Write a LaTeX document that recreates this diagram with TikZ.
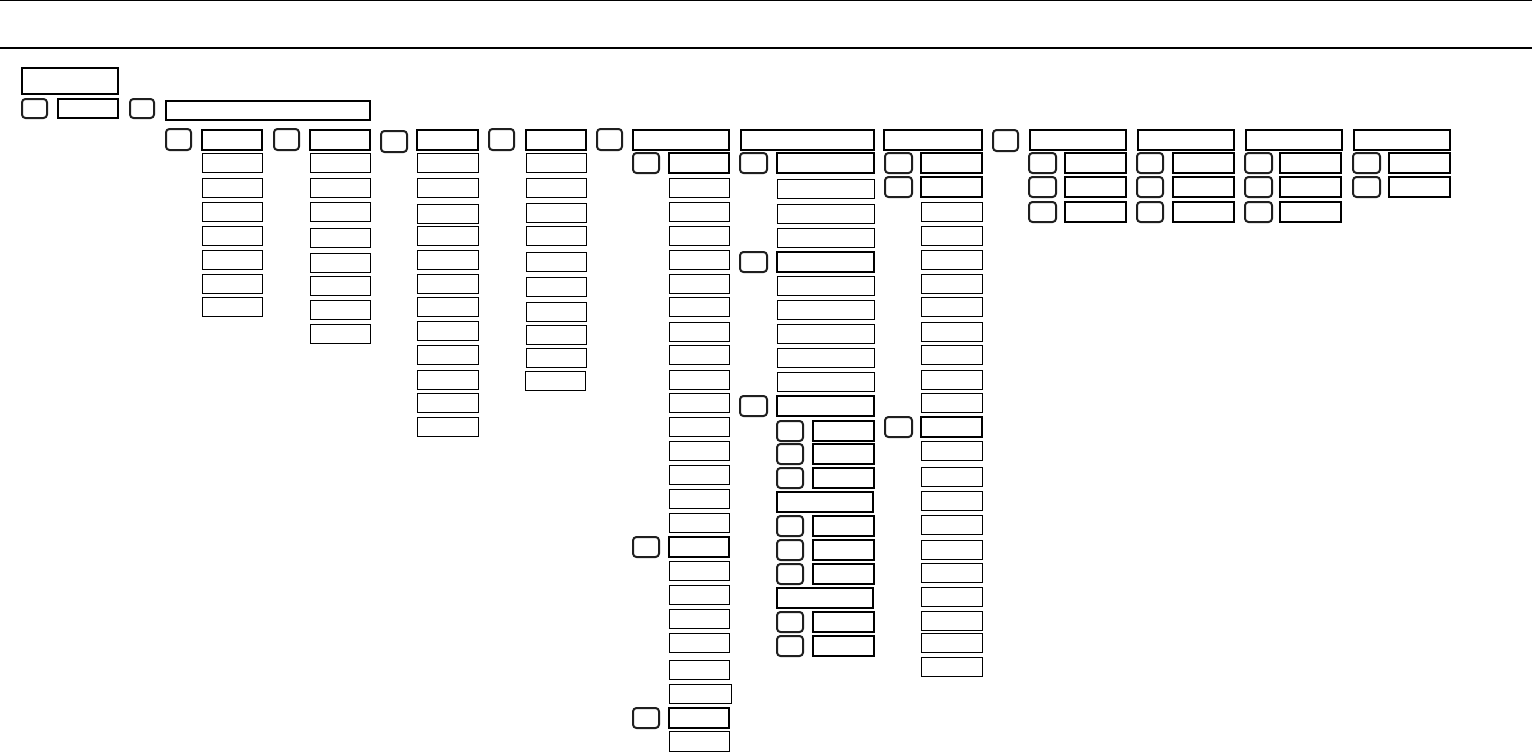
\documentclass[tikz,border=0pt]{standalone}
\usetikzlibrary{fit}
\tikzset{
 base/.style={draw=black, inner sep=0pt, outer sep=0pt},
 hb/.style={base, line width=2.2pt},
 tb/.style={base, line width=1pt},
 rb/.style={base, line width=2pt, rounded corners=3.5pt, draw=black!88},
 rule/.style={draw=black},
}
\newcommand\Bx[6]{\node[#1, fit={(#3,#4) (#5,#6)}] (#2) {};}
\begin{document}
\begin{tikzpicture}[x=1pt,y=-1pt]
\useasboundingbox (0,0) rectangle (1532,752);
% rules
\coordinate (t1) at (0,0.5); \coordinate (t2) at (1532,0.5);
\coordinate (m1) at (0,48); \coordinate (m2) at (1532,48);
\draw[rule, line width=1pt] (t1) -- (t2);
\draw[rule, line width=2pt] (m1) -- (m2);
% top
\Bx{hb}{A}{22}{68}{118}{94}
\Bx{rb}{r0}{22}{99}{47}{118}
\Bx{hb}{A1}{58}{99}{118}{118}
\Bx{rb}{r1}{130}{99}{154}{118}
\Bx{hb}{A2}{166}{101}{370}{120}
% headers
\Bx{rb}{h1r}{166}{129}{191}{150}\Bx{hb}{h1}{202}{130}{262}{150}
\Bx{rb}{h2r}{274}{129}{299}{150}\Bx{hb}{h2}{310}{130}{370}{150}
\Bx{rb}{h3r}{381}{131}{407}{152}\Bx{hb}{h3}{417}{130}{478}{150}
\Bx{rb}{h4r}{489}{129}{514}{150}\Bx{hb}{h4}{526}{130}{586}{150}
\Bx{rb}{h5r}{597}{129}{622}{150}\Bx{hb}{h5}{633}{130}{729}{150}
\Bx{hb}{h6}{741}{130}{874}{150}
\Bx{hb}{h7}{884}{130}{982}{150}
\Bx{rb}{h8r}{993}{130}{1018}{151}
\Bx{hb}{h8a}{1030}{130}{1126}{150}
\Bx{hb}{h8b}{1138}{130}{1234}{150}
\Bx{hb}{h8c}{1246}{130}{1342}{150}
\Bx{hb}{h8d}{1354}{130}{1450}{150}
% column 1
\foreach \y [count=\i] in {153,178,202,226,250,274,297}
  {\Bx{tb}{c1-\i}{202}{\y}{262}{\y+19.5}}
% column 2
\foreach \y [count=\i] in {153,178,202,228,253,276,300,324}
  {\Bx{tb}{c2-\i}{310}{\y}{370}{\y+19.5}}
% column 3
\foreach \y [count=\i] in {153,178,204,226,250,274,297,321,345,370,393,417}
  {\Bx{tb}{c3-\i}{417}{\y}{478}{\y+19.5}}
% column 4
\foreach \y [count=\i] in {153,178,203,226,252,277,302,325,348}
  {\Bx{tb}{c4-\i}{526}{\y}{586}{\y+19.5}}
\Bx{tb}{c4-10}{525}{371}{585}{390}
% column 5
\foreach \y [count=\i] in {153,537,708}
  {\Bx{rb}{c5r-\i}{633}{\y}{659}{\y+20}\Bx{hb}{c5h-\i}{669}{\y}{729}{\y+20}}
\foreach \y [count=\i] in {178,202,226,250,274,297,322,345,370,393,417,441,465,489,513,561,585,609,633,660}
  {\Bx{tb}{c5-\i}{669}{\y}{729}{\y+19.5}}
\Bx{tb}{c5-21}{669}{684}{731}{703}
\Bx{tb}{c5-22}{669}{731.5}{729}{751}
% column 6
\foreach \y [count=\i] in {153,252,396}
  {\Bx{rb}{c6r-\i}{740}{\y}{767}{\y+20}\Bx{hb}{c6h-\i}{777}{\y}{874}{\y+20}}
\foreach \y [count=\i] in {179,204,228,276,300,324,348,372}
  {\Bx{tb}{c6-\i}{777}{\y}{874}{\y+19.5}}
\foreach \y [count=\i] in {421,444,468,516,540,564,612,636}
  {\Bx{rb}{c6sr-\i}{777}{\y}{803}{\y+20}\Bx{hb}{c6s-\i}{813}{\y}{874}{\y+20}}
\Bx{hb}{c6m-1}{777}{492}{873}{512}
\Bx{hb}{c6m-2}{777}{588}{873}{608}
% column 7
\foreach \y [count=\i] in {153,177,417}
  {\Bx{rb}{c7r-\i}{885}{\y}{912}{\y+20}\Bx{hb}{c7h-\i}{921}{\y}{982}{\y+20}}
\foreach \y [count=\i] in {202,226,250,274,297,322,345,370,393,441,467,491,515,540,563,587,611,633,657}
  {\Bx{tb}{c7-\i}{921}{\y}{982}{\y+19.5}}
% group 8
\foreach \xa/\xb/\xc/\n [count=\k] in {1029/1056/1065/3,1137/1163/1173/3,1245/1272/1280/3,1353/1380/1389/2}{
  \pgfmathtruncatemacro\xd{\xc+61}
  \foreach \y [count=\i] in {153,177,202}{
    \ifnum\i>\n\else
      \Bx{rb}{g\k r-\i}{\xa}{\y}{\xb}{\y+20}\Bx{hb}{g\k-\i}{\xc}{\y}{\xd}{\y+20}
    \fi}}
\end{tikzpicture}
\end{document}
